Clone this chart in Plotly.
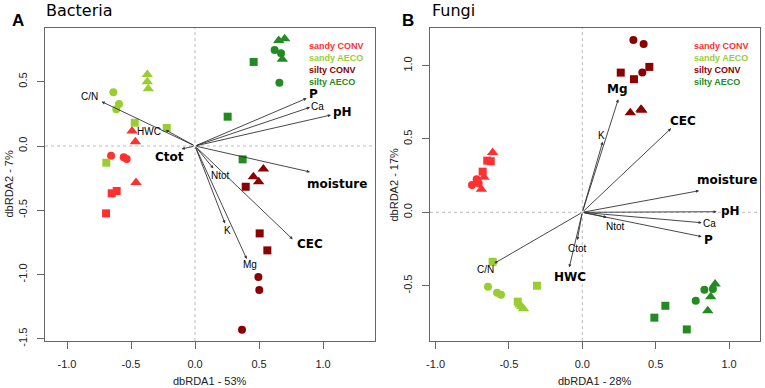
import plotly.graph_objects as go

# ---------------- data ----------------
groups = ["sandy CONV", "sandy AECO", "silty CONV", "silty AECO"]
group_colors = ["#FF3030", "#9ACD32", "#8B0000", "#228B22"]
# point order within each group: 3 circles, 3 squares, 3 triangles
point_symbols = ["circle"] * 3 + ["square"] * 3 + ["triangle-up"] * 3

# Panel A - Bacteria (dbRDA1 53%, dbRDA2 7%)
bac_sandy_conv_x = [-0.656, -0.557, -0.534, -0.651, -0.612, -0.695, -0.492, -0.466, -0.461]
bac_sandy_conv_y = [-0.075, -0.088, -0.101, -0.368, -0.350, -0.524, 0.117, 0.034, -0.283]
bac_sandy_aeco_x = [-0.638, -0.594, -0.615, -0.471, -0.221, -0.693, -0.373, -0.373, -0.365]
bac_sandy_aeco_y = [0.418, 0.327, 0.285, 0.181, 0.140, -0.130, 0.556, 0.500, 0.446]
bac_silty_conv_x = [0.495, 0.502, 0.367, 0.396, 0.505, 0.565, 0.534, 0.456, 0.497]
bac_silty_conv_y = [-1.019, -1.120, -1.430, -0.317, -0.680, -0.812, -0.179, -0.239, -0.278]
bac_silty_aeco_x = [0.622, 0.672, 0.659, 0.458, 0.255, 0.372, 0.654, 0.700, 0.682]
bac_silty_aeco_y = [0.747, 0.721, 0.493, 0.654, 0.228, -0.104, 0.820, 0.835, 0.675]

bac_env_names = ["C/N", "HWC", "Ctot", "P", "Ca", "pH", "moisture", "Ntot", "K", "Mg", "CEC"]
bac_env_x = [-0.729, -0.230, -0.104, 0.872, 0.898, 1.062, 0.898, 0.143, 0.234, 0.404, 0.763]
bac_env_y = [0.345, 0.125, -0.023, 0.371, 0.301, 0.241, -0.202, -0.174, -0.602, -0.879, -0.726]

# Panel B - Fungi (dbRDA1 28%, dbRDA2 17%)
fun_sandy_conv_x = [-0.752, -0.720, -0.706, -0.648, -0.624, -0.679, -0.611, -0.670, -0.688]
fun_sandy_conv_y = [0.186, 0.225, 0.198, 0.352, 0.348, 0.277, 0.408, 0.239, 0.157]
fun_sandy_aeco_x = [-0.643, -0.581, -0.554, -0.611, -0.309, -0.440, -0.425, -0.413, -0.400]
fun_sandy_aeco_y = [-0.507, -0.548, -0.561, -0.337, -0.500, -0.609, -0.632, -0.643, -0.657]
fun_silty_conv_x = [0.348, 0.418, 0.409, 0.262, 0.352, 0.457, 0.327, 0.400, 0.405]
fun_silty_conv_y = [1.175, 1.147, 0.952, 0.952, 0.907, 0.991, 0.679, 0.702, 0.695]
fun_silty_aeco_x = [0.832, 0.890, 0.773, 0.566, 0.491, 0.712, 0.905, 0.875, 0.855]
fun_silty_aeco_y = [-0.528, -0.523, -0.603, -0.637, -0.718, -0.798, -0.489, -0.575, -0.671]

fun_env_names = ["Mg", "K", "CEC", "moisture", "pH", "Ca", "P", "Ntot", "Ctot", "HWC", "C/N"]
fun_env_x = [0.245, 0.139, 0.605, 0.796, 0.916, 0.814, 0.814, 0.166, -0.034, -0.089, -0.600]
fun_env_y = [0.770, 0.481, 0.572, 0.147, 0.004, -0.071, -0.166, -0.034, -0.189, -0.375, -0.348]

x_ticks = [-1.0, -0.5, 0.0, 0.5, 1.0]
bac_y_ticks = [-1.5, -1.0, -0.5, 0.0, 0.5]
fun_y_ticks = [-0.5, 0.0, 0.5, 1.0]

# ---------------- styles ----------------
bac_bold = {"Ctot", "P", "pH", "moisture", "CEC"}
fun_bold = {"Mg", "CEC", "moisture", "pH", "P", "HWC"}
# label pixel offsets from arrow tips
bac_label_shift = {"C/N": (-12, 5), "HWC": (-17, -2), "Ctot": (-12, -8), "P": (7, 4), "Ca": (8, 1),
                   "pH": (12, 3), "moisture": (27, -12), "Ntot": (7, -7), "K": (3, -7),
                   "Mg": (3, -6), "CEC": (17, -5)}
fun_label_shift = {"Mg": (-1, 10), "K": (-1, 6), "CEC": (12, 7), "moisture": (28, 11), "pH": (14, 1),
                   "Ca": (8, -1), "P": (7, -3), "Ntot": (9, -9), "Ctot": (0, -8), "HWC": (1, -10),
                   "C/N": (-9, -6)}

W, H = 765, 388
AXC = "#666666"
REG = "Liberation Sans, Arial, sans-serif"
BOLDF = "DejaVu Sans, Verdana, sans-serif"

fig = go.Figure()

symbol_sizes = [8 if s == "circle" else (8 if s == "square" else 10) for s in point_symbols]

bac_sets = [(bac_sandy_conv_x, bac_sandy_conv_y), (bac_sandy_aeco_x, bac_sandy_aeco_y),
            (bac_silty_conv_x, bac_silty_conv_y), (bac_silty_aeco_x, bac_silty_aeco_y)]
fun_sets = [(fun_sandy_conv_x, fun_sandy_conv_y), (fun_sandy_aeco_x, fun_sandy_aeco_y),
            (fun_silty_conv_x, fun_silty_conv_y), (fun_silty_aeco_x, fun_silty_aeco_y)]

for (sets, xa, ya) in [(bac_sets, "x", "y"), (fun_sets, "x2", "y2")]:
    for g, col, (xs, ys) in zip(groups, group_colors, sets):
        fig.add_trace(go.Scatter(
            x=xs, y=ys, mode="markers", name=g, xaxis=xa, yaxis=ya, showlegend=False,
            marker=dict(symbol=point_symbols, size=symbol_sizes, color=col, opacity=1,
                        line=dict(width=0)),
        ))

annotations = []
shapes = []

def add_arrows(names, xs, ys, xref, yref, bold, shifts):
    for n, x, y in zip(names, xs, ys):
        annotations.append(dict(x=x, y=y, ax=0, ay=0, xref=xref, yref=yref, axref=xref, ayref=yref,
                                text="", showarrow=True, arrowhead=2, arrowsize=0.7, arrowwidth=0.9,
                                arrowcolor="#333333", standoff=0, startstandoff=0))
        dx, dy = shifts[n]
        isb = n in bold
        annotations.append(dict(x=x, y=y, xref=xref, yref=yref, text=(f"<b>{n}</b>" if isb else n),
                                showarrow=False, xshift=dx, yshift=dy,
                                font=dict(family=BOLDF if isb else REG, size=12 if isb else 10,
                                          color="#000000")))

add_arrows(bac_env_names, bac_env_x, bac_env_y, "x", "y", bac_bold, bac_label_shift)
add_arrows(fun_env_names, fun_env_x, fun_env_y, "x2", "y2", fun_bold, fun_label_shift)

# zero dotted lines
for xr, yr in [("x", "y"), ("x2", "y2")]:
    shapes.append(dict(type="line", xref=xr, yref=yr + " domain", x0=0, x1=0, y0=0, y1=1,
                       line=dict(color="#BBBBBB", width=1, dash="dot"), layer="below"))
    shapes.append(dict(type="line", xref=xr + " domain", yref=yr, x0=0, x1=1, y0=0, y1=0,
                       line=dict(color="#BBBBBB", width=1, dash="dot"), layer="below"))

# legends (coloured text)
for lx in [307, 692]:
    for i, (g, col) in enumerate(zip(groups, group_colors)):
        annotations.append(dict(x=lx / W, y=1 - (46 + 12 * i) / H, xref="paper", yref="paper",
                                text=f"<b>{g}</b>", showarrow=False, xanchor="left", yanchor="middle",
                                font=dict(family=REG, size=9, color=col)))

# panel titles
for letter, lx, title, tx in [("A", 18, "Bacteria", 44), ("B", 408, "Fungi", 430)]:
    annotations.append(dict(x=lx / W, y=1 - 20 / H, xref="paper", yref="paper", text=f"<b>{letter}</b>",
                            showarrow=False, xanchor="center", yanchor="middle",
                            font=dict(family=REG, size=17, color="#000000")))
    annotations.append(dict(x=tx / W, y=1 - 10 / H, xref="paper", yref="paper", text=title,
                            showarrow=False, xanchor="left", yanchor="middle",
                            font=dict(family=BOLDF, size=16, color="#000000")))

# axis titles
for xt, xc, yt, yc in [("dbRDA1 - 53%", 210, "dbRDA2 - 7%", 8), ("dbRDA1 - 28%", 595, "dbRDA2 - 17%", 393)]:
    annotations.append(dict(x=xc / W, y=1 - 381 / H, xref="paper", yref="paper", text=xt,
                            showarrow=False, xanchor="center", yanchor="middle",
                            font=dict(family=REG, size=11, color="#222222")))
    annotations.append(dict(x=yc / W, y=1 - 184.5 / H, xref="paper", yref="paper", text=yt,
                            showarrow=False, xanchor="center", yanchor="middle", textangle=-90,
                            font=dict(family=REG, size=11, color="#222222")))

def fmt(v):
    return f"{v:.1f}"

ax_common = dict(showline=True, mirror=True, linecolor=AXC, linewidth=1, ticks="outside", ticklen=7,
                 tickcolor=AXC, tickwidth=1, showgrid=False, zeroline=False, automargin=False,
                 tickfont=dict(family=REG, size=11, color="#222222"))

fig.update_layout(
    width=W, height=H, margin=dict(l=0, r=0, t=0, b=0),
    paper_bgcolor="white", plot_bgcolor="white",
    xaxis=dict(domain=[45 / W, 375 / W], range=[-1.172, 1.406], anchor="y",
               tickvals=x_ticks, ticktext=[fmt(v) for v in x_ticks], ticklabelstandoff=6, **ax_common),
    yaxis=dict(domain=[1 - 341 / H, 1 - 28 / H], range=[-1.517, 0.918], anchor="x",
               tickvals=bac_y_ticks, ticktext=[fmt(v) for v in bac_y_ticks], tickangle=-90,
               ticklabelstandoff=6, **ax_common),
    xaxis2=dict(domain=[430 / W, 760 / W], range=[-1.038, 1.211], anchor="y2",
                tickvals=x_ticks, ticktext=[fmt(v) for v in x_ticks], ticklabelstandoff=6, **ax_common),
    yaxis2=dict(domain=[1 - 341 / H, 1 - 28 / H], range=[-0.877, 1.256], anchor="x2",
                tickvals=fun_y_ticks, ticktext=[fmt(v) for v in fun_y_ticks], tickangle=-90,
                ticklabelstandoff=6, **ax_common),
    annotations=annotations, shapes=shapes,
)

fig.write_html("out.html", config={"displayModeBar": False},
               post_script="document.body.style.margin='0';document.body.style.overflow='hidden';")
